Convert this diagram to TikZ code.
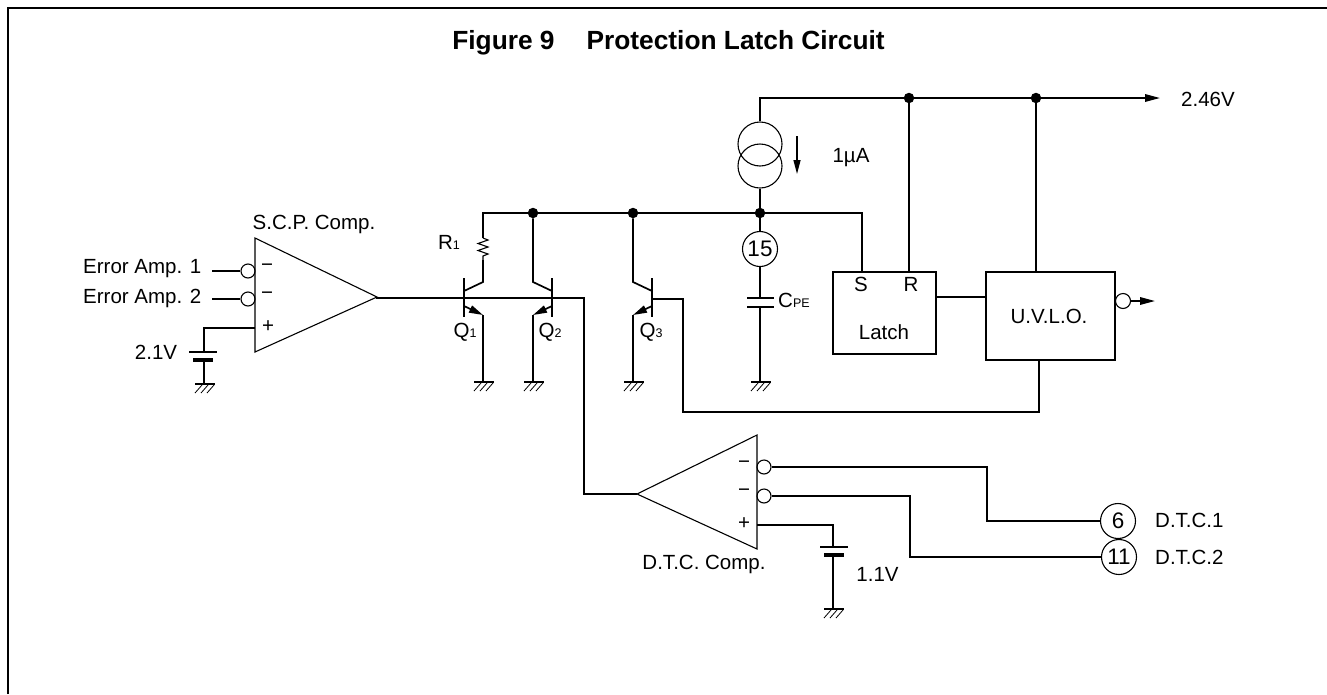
\documentclass[tikz,border=0pt]{standalone}
\usepackage{fontspec}
\setmainfont{Liberation Sans}
\usetikzlibrary{arrows.meta,positioning}
\tikzstyle{wire} = [line width=1.7pt]
\tikzstyle{arrow} = [line width=1.7pt,-{Stealth[length=15pt,width=7.5pt,inset=0pt]}]
\tikzstyle{emitter} = [line width=1.7pt,-{Stealth[length=14pt,width=7.5pt,inset=0pt]}]
\tikzstyle{thinline} = [line width=1.1pt]
\tikzstyle{label} = [inner sep=0pt,font=\fontsize{20.5}{22}\selectfont]
\tikzstyle{block} = [rectangle, draw, line width=1.7pt, inner sep=0pt]
\tikzstyle{pin} = [circle, draw, line width=1.1pt, minimum size=35pt, inner sep=0pt, font=\fontsize{22.5}{24}\selectfont]
\tikzstyle{bubble} = [circle, draw, line width=1.1pt, minimum size=14pt, inner sep=0pt]
\tikzstyle{junction} = [circle, fill, minimum size=10.5pt, inner sep=0pt]
\tikzset{earth/.pic={
  \draw[wire] (-9,0) -- (11,0);
  \foreach \dx in {-2,4,10} \draw[thinline,line width=.8pt] (\dx,1) -- (\dx-7,9);
}}
\newcommand{\sub}[1]{{\fontsize{12.5}{12}\selectfont #1}}
\begin{document}
\begin{tikzpicture}[x=1pt,y=-1pt]
\useasboundingbox (0,0) rectangle (1327,694);
\draw[wire,line width=2pt] (8,694) -- (8,8) -- (1327,8);
\node[label,font=\fontsize{26.3}{28}\selectfont\bfseries] (title) at (668.5,43) {Figure 9\hspace{32pt}Protection Latch Circuit};

% S.C.P. comparator
\coordinate (scpT) at (255,238);
\coordinate (scpB) at (255,352);
\coordinate (scpO) at (377,297);
\draw[thinline] (scpT) -- (scpO) -- (scpB) -- cycle;
\node[label] (scpname) at (314,224) {S.C.P. Comp.};
\node[bubble] (b1) at (248,271) {};
\node[bubble] (b2) at (248,299) {};
\node[label] at (267,268) {−};
\node[label] at (267,296) {−};
\node[label] at (268,327) {+};
\node[label,anchor=west] (ea1) at (83,269) {Error Amp. 1};
\node[label,anchor=west] (ea2) at (83,298) {Error Amp. 2};
\coordinate (ea1e) at (212,271);
\coordinate (ea2e) at (212,299);
\draw[wire] (ea1e) -- (b1);
\draw[wire] (ea2e) -- (b2);
\coordinate (scpP) at (255,328);
\coordinate (batA) at (204,352);
\coordinate (batB) at (204,360);
\coordinate (gndA) at (204,384);
\draw[wire] (scpP) -| (batA);
\draw[wire] (189,352) -- (217,352);
\draw[wire,line width=3.5pt] (193,360) -- (213,360);
\draw[wire] (batB) -- (gndA);
\pic at (gndA) {earth};
\node[label] (v21) at (156,352) {2.1V};

% transistors
\node[junction] (j1) at (533,213) {};
\node[junction] (j2) at (633,213) {};
\node[junction] (j3) at (760,213) {};
\coordinate (s) at (862,272);
\coordinate (r1t) at (483,213);
\coordinate (r1a) at (483,238);
\coordinate (r1b) at (483,260);
\coordinate (q1c) at (483,282);
\coordinate (q2c) at (533,282);
\coordinate (q3c) at (633,282);
\coordinate (q1e) at (483,315);
\coordinate (q2e) at (533,315);
\coordinate (q3e) at (633,315);
\coordinate (gnd1) at (483,382);
\coordinate (gnd2) at (533,382);
\coordinate (gnd3) at (633,382);
\draw[wire] (r1a) -- (r1t) -- (j1) -- (j2) -- (j3);
\draw[wire] (j3) -| (s);
\draw[thinline] (r1a) -- ++(5,2) -- ++(-10,3.5) -- ++(10,3.5) -- ++(-10,3.5) -- ++(10,3.5) -- ++(-5,2) -- (r1b);
\draw[wire] (r1b) -- (q1c) -- (464,291);
\draw[wire] (j1) -- (q2c) -- (552,291);
\draw[wire] (j2) -- (q3c) -- (652,291);
\draw[wire] (464,278) -- (464,317);
\draw[wire] (552,278) -- (552,317);
\draw[wire] (652,278) -- (652,317);
\draw[emitter] (464,306) -- (q1e);
\draw[emitter] (552,306) -- (q2e);
\draw[emitter] (652,306) -- (q3e);
\draw[wire] (q1e) -- (gnd1);
\draw[wire] (q2e) -- (gnd2);
\draw[wire] (q3e) -- (gnd3);
\pic at (gnd1) {earth};
\pic at (gnd2) {earth};
\pic at (gnd3) {earth};
\node[label] (r1) at (449,242) {R\sub{1}};
\node[label] (q1) at (465,332) {Q\sub{1}};
\node[label] (q2) at (550,332) {Q\sub{2}};
\node[label] (q3) at (651,332) {Q\sub{3}};

% D.T.C. comparator
\coordinate (dtcT) at (757,435);
\coordinate (dtcB) at (757,549);
\coordinate (dtcO) at (637,494);
\draw[thinline] (dtcT) -- (dtcO) -- (dtcB) -- cycle;
\coordinate (bend) at (584,494);
\draw[wire] (scpO) -- (377,298) -- (584,298) -- (bend) -- (dtcO);
\node[label] (dtcname) at (704,564.5) {D.T.C. Comp.};
\node[label] at (744,465) {−};
\node[label] at (744,493) {−};
\node[label] at (744,524) {+};
\node[bubble] (b3) at (764,467) {};
\node[bubble] (b4) at (764,496) {};
\node[pin] (p6) at (1118,521) {6};
\node[pin] (p11) at (1119,557) {11};
\coordinate (bend1) at (987,467);
\coordinate (bend2) at (910,496);
\draw[wire] (b3) -- (bend1) |- (p6);
\draw[wire] (b4) -- (bend2) |- (p11);
\node[label,anchor=west] (dtc1) at (1155,520) {D.T.C.1};
\node[label,anchor=west] (dtc2) at (1155,557) {D.T.C.2};
\coordinate (dtcP) at (757,525);
\coordinate (bat2A) at (833,547);
\coordinate (bat2B) at (833,555);
\coordinate (gnd5) at (833,609);
\draw[wire] (dtcP) -| (bat2A);
\draw[wire] (820,547) -- (848,547);
\draw[wire,line width=3.5pt] (824,555) -- (844,555);
\draw[wire] (bat2B) -- (gnd5);
\pic at (gnd5) {earth};
\node[label] (v11) at (877.5,574) {1.1V};

% current source and pin 15
\coordinate (top) at (760,98);
\node[circle,draw,thinline,minimum size=44pt,inner sep=0pt] (cs1) at (760,144) {};
\node[circle,draw,thinline,minimum size=44pt,inner sep=0pt] (cs2) at (760,166) {};
\node[junction] (j4) at (909,98) {};
\node[junction] (j5) at (1036,98) {};
\coordinate (tip) at (1160,98);
\draw[wire] (cs1) -- (top) -- (j4) -- (j5);
\draw[arrow] (j5) -- (tip);
\draw[wire] (cs2) -- (j3);
\coordinate (ia) at (797,136);
\coordinate (ib) at (797,174);
\draw[line width=1.3pt,-{Stealth[length=14pt,width=7pt,inset=0pt]}] (ia) -- (ib);
\node[label] (ilabel) at (851,158) {1µA};
\node[label,anchor=west] (v246) at (1181,99) {2.46V};
\node[pin] (p15) at (760,249) {15};
\coordinate (cA) at (760,298);
\coordinate (cB) at (760,307);
\coordinate (gnd4) at (760,382);
\draw[wire] (j3) -- (p15);
\draw[wire] (p15) -- (cA);
\draw[wire] (747,298) -- (774,298);
\draw[wire] (747,307) -- (774,307);
\draw[wire] (cB) -- (gnd4);
\pic at (gnd4) {earth};
\node[label,anchor=west] (cpe) at (778,300) {C\sub{PE}};

% latch and U.V.L.O.
\node[block,minimum width=103pt,minimum height=82pt] (latch) at (884.5,313) {};
\node[block,minimum width=129pt,minimum height=88pt] (uvlo) at (1050.5,316) {};
\node[label] (sname) at (861,284) {S};
\node[label] (rname) at (911,284) {R};
\node[label] (lname) at (884,332) {Latch};
\node[label] (uname) at (1049,316) {U.V.L.O.};
\coordinate (latchR) at (909,272);
\coordinate (uvloT) at (1036,272);
\draw[wire] (j4) -- (latchR);
\draw[wire] (j5) -- (uvloT);
\draw[wire] (latch.east |- 0,297) -- (uvlo.west |- 0,297);
\node[bubble,minimum size=15pt] (b5) at (1123,301) {};
\coordinate (otip) at (1155,301);
\draw[arrow] (b5) -- (otip);
\coordinate (uvloB) at (1039,360);
\coordinate (q3b) at (652,299);
\coordinate (fbA) at (683,299);
\coordinate (fbB) at (683,412);
\coordinate (fbC) at (1039,412);
\draw[wire] (q3b) -- (fbA) -- (fbB) -- (fbC) -- (uvloB);
\end{tikzpicture}
\end{document}
